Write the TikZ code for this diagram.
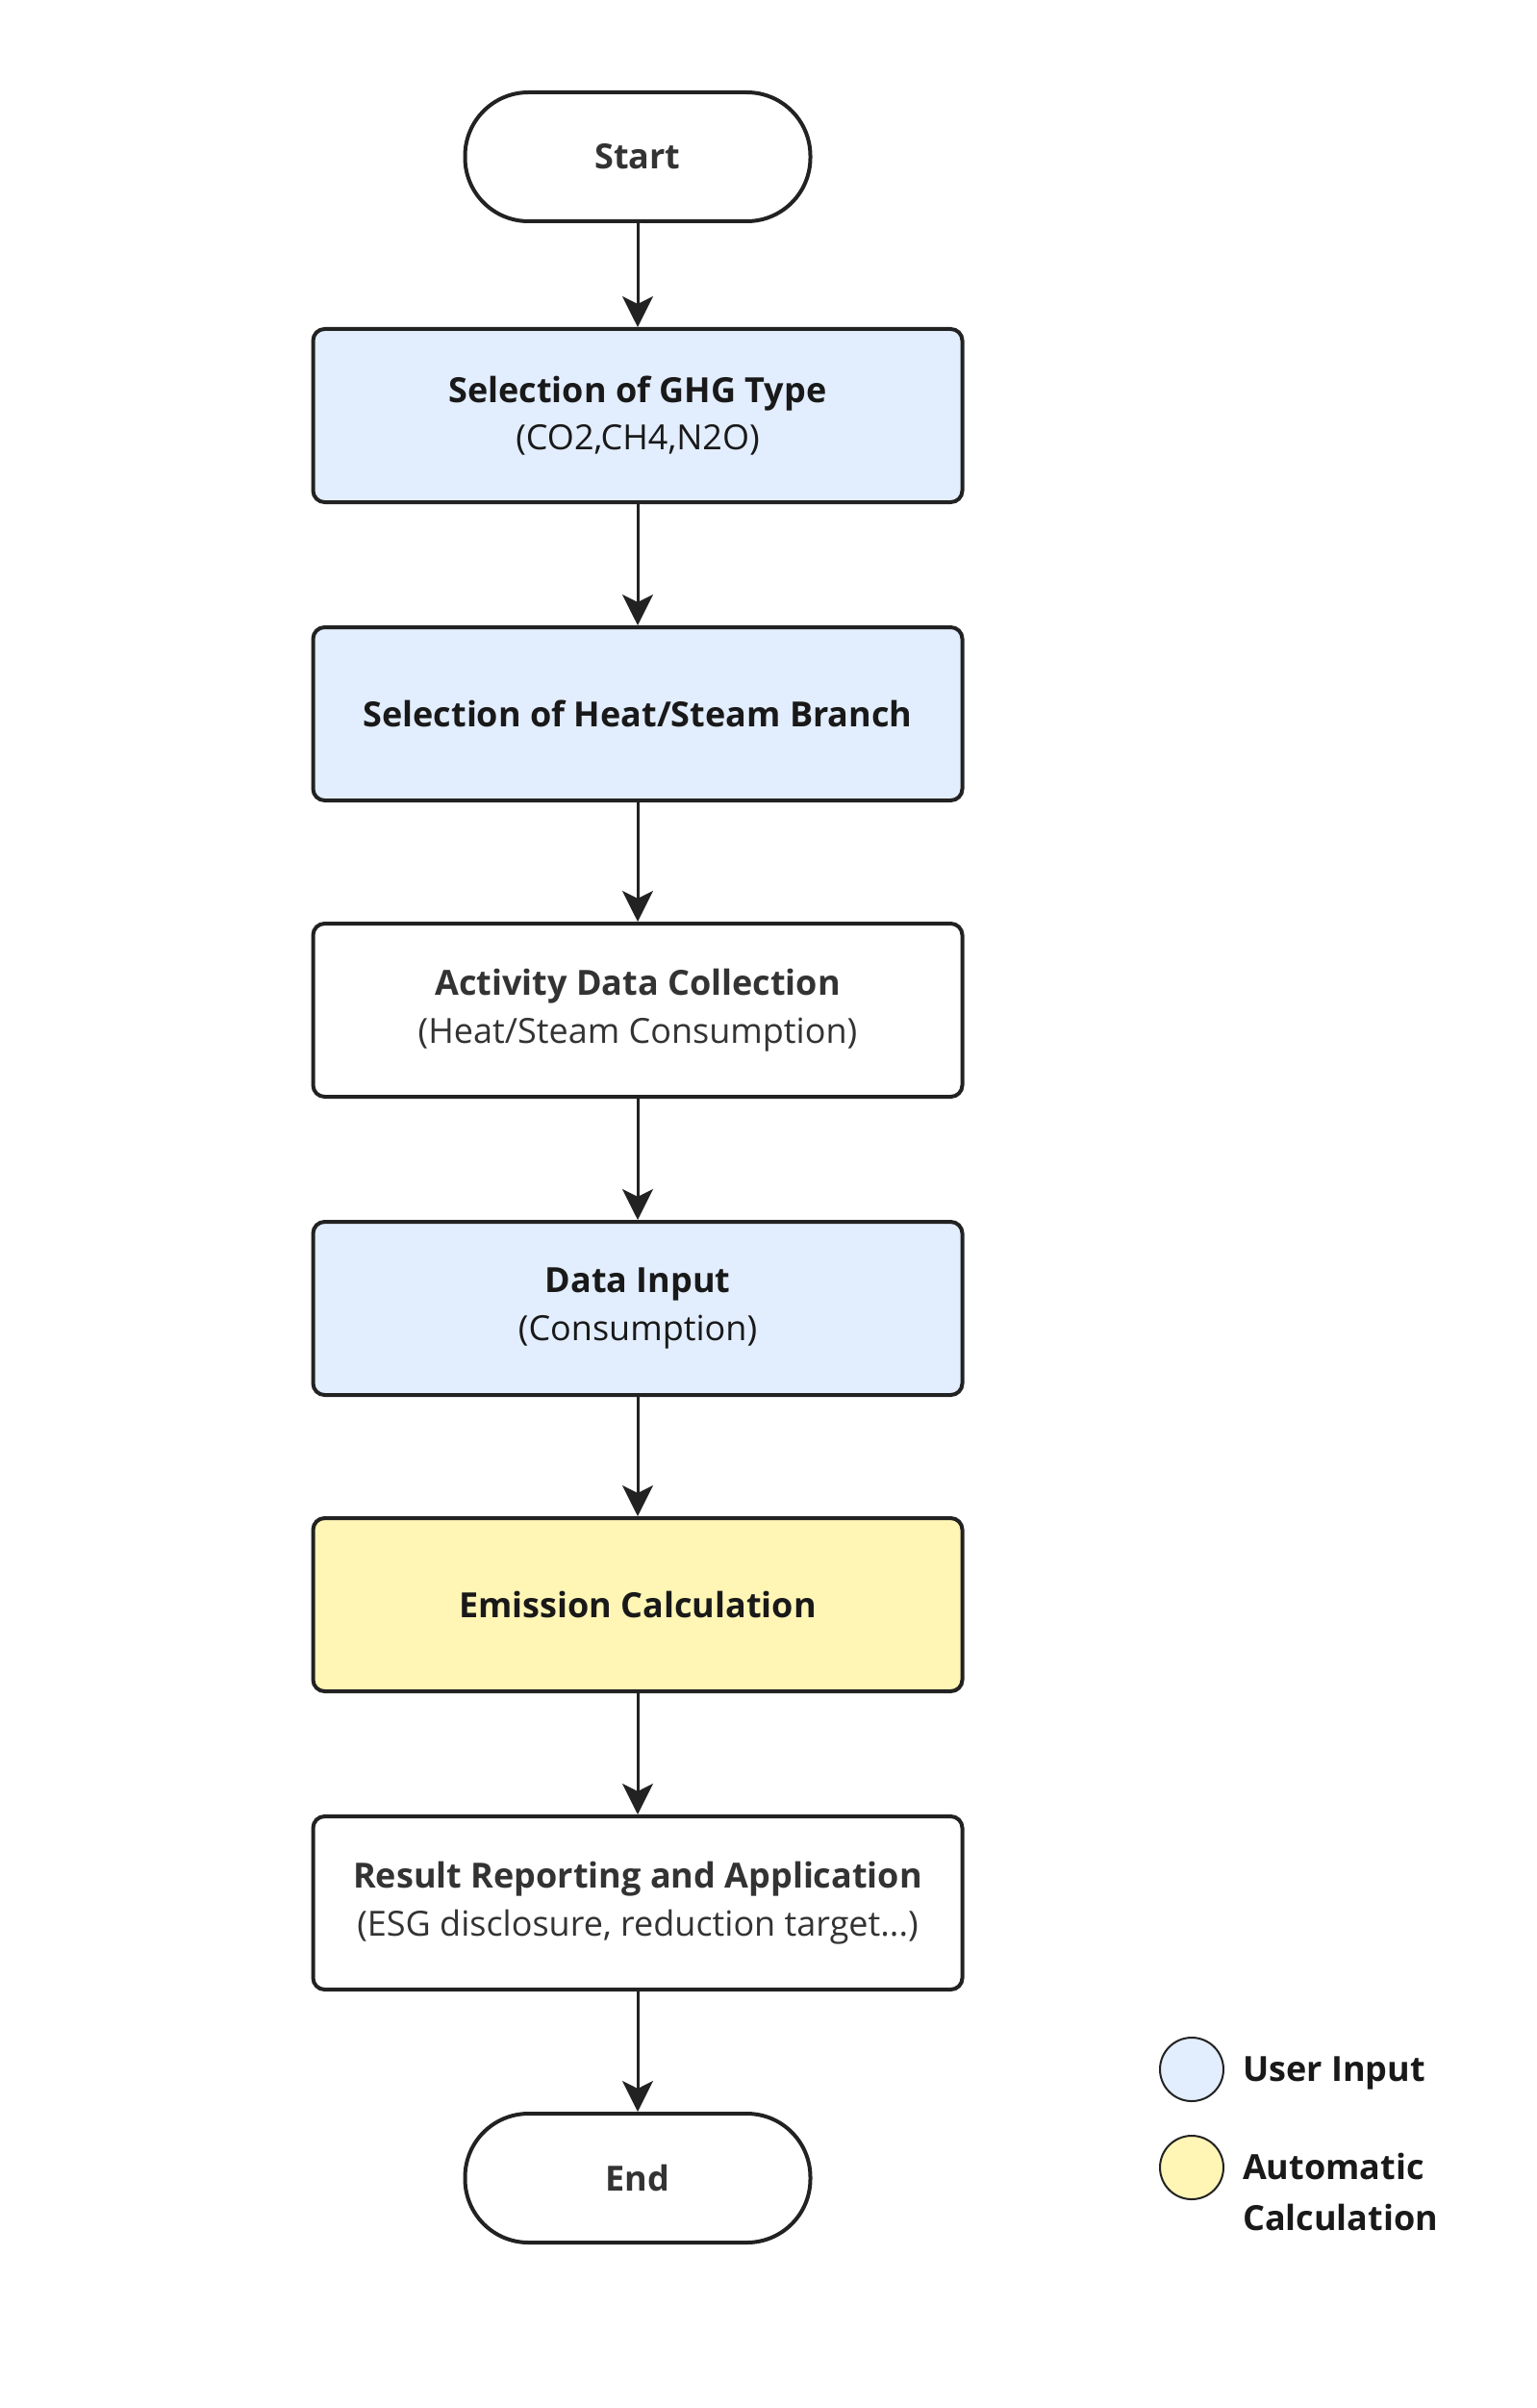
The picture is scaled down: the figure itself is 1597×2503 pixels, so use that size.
\documentclass[tikz,border=0pt]{standalone}
\usepackage{fontspec}
\setmainfont{Open Sans}
\usetikzlibrary{arrows.meta}
\definecolor{inputblue}{HTML}{E2EDFD}
\definecolor{calcyellow}{HTML}{FFF5B5}
\definecolor{edgegray}{HTML}{222222}
\definecolor{textgray}{HTML}{333333}
\tikzset{
  stepbox/.style={draw=edgegray, line width=2pt, rounded corners=6pt,
    minimum width=337.5pt, minimum height=90pt, align=center,
    font=\fontsize{18}{24.8}\selectfont, text=textgray},
  terminal/.style={draw=edgegray, line width=2pt, rounded corners=33pt,
    minimum width=179.5pt, minimum height=67pt,
    font=\bfseries\fontsize{18}{24.8}\selectfont, text=textgray},
  flow/.style={draw=edgegray, line width=1.5pt,
    -{Stealth[length=16pt,width=16pt,inset=4pt]}},
  legdot/.style={circle, draw=edgegray, line width=1pt, minimum size=33pt, inner sep=0pt},
  legtext/.style={anchor=west, align=left,
    font=\bfseries\fontsize{18}{26.5}\selectfont, text=black!90}
}
\begin{document}
\begin{tikzpicture}[x=0.5pt,y=-0.5pt]
\useasboundingbox (0,0) rectangle (1597,2503);
% main flow
\node[terminal] (start) at (663,163) {Start};
\node[stepbox,fill=inputblue,text=black!90] (ghg) at (663,432)
  {\textbf{Selection of GHG Type}\\(CO2,CH4,N2O)};
\node[stepbox,fill=inputblue,text=black!90] (branch) at (663,742)
  {\textbf{Selection of Heat/Steam Branch}};
\node[stepbox,fill=white] (collect) at (663,1050)
  {\textbf{Activity Data Collection}\\(Heat/Steam Consumption)};
\node[stepbox,fill=inputblue,text=black!90] (input) at (663,1360)
  {\textbf{Data Input}\\(Consumption)};
\node[stepbox,fill=calcyellow,text=black!90] (calc) at (663,1668)
  {\textbf{Emission Calculation}};
\node[stepbox,fill=white] (report) at (663,1978)
  {\textbf{Result Reporting and Application}\\(ESG disclosure, reduction target...)};
\node[terminal] (end) at (663,2264) {End};
\draw[flow](start)--(ghg);
\draw[flow](ghg)--(branch);
\draw[flow](branch)--(collect);
\draw[flow](collect)--(input);
\draw[flow](input)--(calc);
\draw[flow](calc)--(report);
\draw[flow](report)--(end);
% legend
\node[legdot,fill=inputblue] (keyuser) at (1239,2151) {};
\node[legtext] (keyusertext) at (1285,2155) {User Input};
\node[legdot,fill=calcyellow] (keycalc) at (1239,2253) {};
\node[legtext,anchor=north west] (keycalctext) at (1285,2231) {Automatic\\Calculation};
\end{tikzpicture}
\end{document}
